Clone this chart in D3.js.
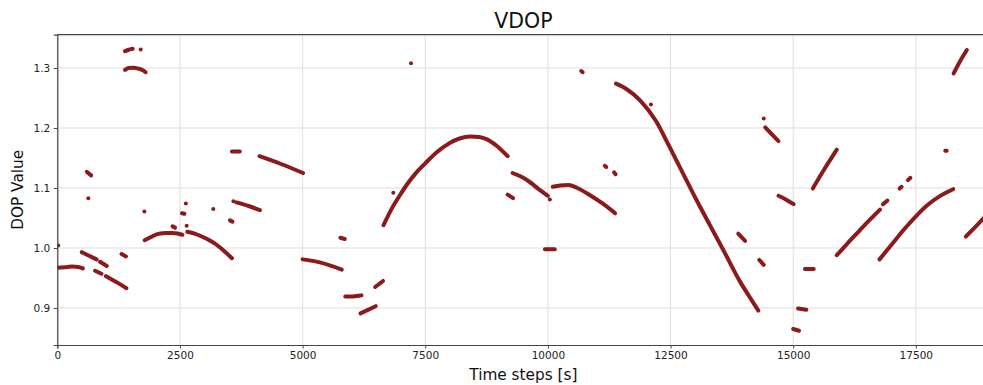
<!DOCTYPE html>
<html>
<head>
<meta charset="utf-8">
<script src="https://cdn.jsdelivr.net/npm/d3@7"></script>
<style>
  html, body { margin: 0; padding: 0; background: #fff; overflow: hidden; }
  text { font-family: "DejaVu Sans", sans-serif; }
</style>
</head>
<body>
<div id="chart"></div>
<script>
'use strict'

// tick labels
const xTicks = [0, 2500, 5000, 7500, 10000, 12500, 15000, 17500],
    yTicks = [0.9, 1.0, 1.1, 1.2, 1.3]

// continuous runs of VDOP samples, [time step, value]
const segments = [
    [[0, 0.967], [150, 0.968], [300, 0.969], [450, 0.968], [520, 0.966]],
    [[500, 0.993], [650, 0.987], [800, 0.981]],
    [[870, 0.977], [1010, 0.970]],
    [[770, 0.962], [900, 0.957]],
    [[990, 0.953], [1100, 0.948], [1250, 0.941], [1410, 0.933]],
    [[1310, 0.990], [1400, 0.986]],
    [[600, 1.127], [690, 1.121]],
    [[1380, 1.328], [1440, 1.330], [1537, 1.332]],
    [[1380, 1.297], [1450, 1.300], [1550, 1.3005], [1650, 1.299], [1750, 1.296], [1800, 1.293]],
    [[1780, 1.013], [1900, 1.018], [2000, 1.022], [2100, 1.024], [2200, 1.025], [2350, 1.025], [2450, 1.024], [2550, 1.022]],
    [[2350, 1.036], [2400, 1.034]],
    [[2540, 1.058], [2590, 1.057]],
    [[2650, 1.027], [2800, 1.024], [3000, 1.017], [3200, 1.008], [3400, 0.995], [3560, 0.983]],
    [[3520, 1.046], [3570, 1.044]],
    [[3560, 1.161], [3720, 1.161]],
    [[3650, 1.076], [3900, 1.070], [4130, 1.063]],
    [[4120, 1.153], [4560, 1.140], [5010, 1.125]],
    [[5000, 0.981], [5350, 0.976], [5800, 0.964]],
    [[5770, 1.017], [5860, 1.015]],
    [[5870, 0.919], [6000, 0.919], [6100, 0.920], [6200, 0.921]],
    [[6180, 0.891], [6490, 0.903]],
    [[6480, 0.935], [6640, 0.945]],
    [[6650, 1.038], [6820, 1.066], [7000, 1.090], [7120, 1.105], [7300, 1.124], [7500, 1.141], [7700, 1.157],
        [7870, 1.168], [8000, 1.175], [8200, 1.1825], [8420, 1.186], [8600, 1.185], [8760, 1.181], [8960, 1.170], [9180, 1.153]],
    [[9280, 1.125], [9450, 1.119], [9630, 1.110], [9800, 1.099], [10000, 1.087]],
    [[9180, 1.089], [9290, 1.083]],
    [[9940, 0.998], [10140, 0.998]],
    [[10100, 1.102], [10250, 1.104], [10420, 1.105], [10600, 1.100], [10860, 1.088], [11100, 1.075], [11370, 1.058]],
    [[11160, 1.137], [11190, 1.135]],
    [[11350, 1.126], [11380, 1.123]],
    [[10680, 1.295], [10710, 1.293]],
    [[11390, 1.274], [11600, 1.265], [11880, 1.246], [12200, 1.212], [12490, 1.167], [12800, 1.117], [13030, 1.080],
        [13300, 1.0386], [13580, 0.996], [13920, 0.9435], [14100, 0.920], [14290, 0.8955]],
    [[13880, 1.024], [14020, 1.012]],
    [[14310, 0.980], [14400, 0.972]],
    [[14430, 1.201], [14700, 1.178]],
    [[14700, 1.087], [14850, 1.081], [15010, 1.073]],
    [[15000, 0.865], [15120, 0.862]],
    [[15100, 0.899], [15270, 0.897]],
    [[15240, 0.965], [15420, 0.965]],
    [[15400, 1.099], [15640, 1.132], [15890, 1.164]],
    [[15890, 0.988], [16100, 1.007], [16330, 1.027], [16550, 1.046], [16770, 1.064]],
    [[16830, 1.073], [16920, 1.079]],
    [[17170, 1.099], [17210, 1.102]],
    [[17340, 1.113], [17390, 1.117]],
    [[18100, 1.162], [18130, 1.162]],
    [[16760, 0.981], [17000, 1.005], [17250, 1.030], [17520, 1.0545], [17720, 1.0705], [17990, 1.0865], [18260, 1.098]],
    [[18270, 1.291], [18400, 1.311], [18540, 1.330]],
    [[18520, 1.019], [18700, 1.034], [18900, 1.051]]
]

// isolated samples
const dots = [
    [20, 1.004], [632, 1.083], [1700, 1.331], [1775, 1.061], [2620, 1.074], [2637, 1.037],
    [3180, 1.065], [3590, 1.078], [6849, 1.092], [7210, 1.308], [10040, 1.081], [12100, 1.239], [14400, 1.216]
]

const W = 983, H = 385,
    margin = {top: 34.7, left: 57.3, bottom: 40, right: -6.4},
    width = W - margin.left - margin.right,
    height = H - margin.top - margin.bottom,
    color = '#8b1a1a'

const svg = d3.select('#chart')
    .append('svg')
    .attr('width', W)
    .attr('height', H)
    .style('display', 'block')

const x = d3.scaleLinear().domain([0, 19000]).range([0, width]),
    y = d3.scaleLinear().domain([0.8383, 1.3555]).range([height, 0])

const g = svg.append('g')
    .attr('transform', `translate(${margin.left},${margin.top})`)

g.append('clipPath').attr('id', 'clip')
    .append('rect').attr('width', width).attr('height', height)

// grid
g.append('g')
    .selectAll('line')
    .data(xTicks)
    .join('line')
    .attr('x1', d => x(d)).attr('x2', d => x(d))
    .attr('y1', 0).attr('y2', height)
    .attr('stroke', '#dedede').attr('stroke-width', 1)

g.append('g')
    .selectAll('line')
    .data(yTicks)
    .join('line')
    .attr('x1', 0).attr('x2', width)
    .attr('y1', d => y(d)).attr('y2', d => y(d))
    .attr('stroke', '#dedede').attr('stroke-width', 1)

// data
const line = d3.line()
    .x(d => x(d[0]))
    .y(d => y(d[1]))
    .curve(d3.curveMonotoneX)

const plot = g.append('g').attr('clip-path', 'url(#clip)')

plot.selectAll('path.seg')
    .data(segments)
    .join('path')
    .attr('class', 'seg')
    .attr('d', line)
    .attr('fill', 'none')
    .attr('stroke', color)
    .attr('stroke-width', 4)
    .attr('stroke-linecap', 'round')
    .attr('stroke-linejoin', 'round')

plot.selectAll('circle.dot')
    .data(dots)
    .join('circle')
    .attr('class', 'dot')
    .attr('cx', d => x(d[0]))
    .attr('cy', d => y(d[1]))
    .attr('r', 2)
    .attr('fill', color)

// axes
const xAxis = g.append('g')
    .attr('transform', `translate(0,${height})`)
    .call(d3.axisBottom(x).tickValues(xTicks).tickSize(3.5).tickPadding(3.5).tickFormat(d3.format('d')))

const yAxis = g.append('g')
    .call(d3.axisLeft(y).tickValues(yTicks).tickSize(3.5).tickPadding(3.5).tickFormat(d3.format('.1f')))

for (const ax of [xAxis, yAxis]) {
    ax.select('.domain').attr('stroke', '#444').attr('stroke-width', 1.2)
    ax.selectAll('.tick line').attr('stroke', '#444')
    ax.selectAll('.tick text')
        .attr('fill', '#222')
        .style('font-family', '"DejaVu Sans", sans-serif')
        .style('font-size', '10.5px')
}

// top spine
g.append('line')
    .attr('x1', 0).attr('x2', width)
    .attr('y1', 0).attr('y2', 0)
    .attr('stroke', '#444').attr('stroke-width', 1.2)

// labels
svg.append('text')
    .attr('x', margin.left + width / 2)
    .attr('y', 28)
    .attr('text-anchor', 'middle')
    .style('font-size', '20.5px')
    .attr('fill', '#111')
    .text('VDOP')

svg.append('text')
    .attr('x', margin.left + width / 2)
    .attr('y', 380)
    .attr('text-anchor', 'middle')
    .style('font-size', '15.3px')
    .attr('fill', '#111')
    .text('Time steps [s]')

svg.append('text')
    .attr('transform', `translate(23,${margin.top + height / 2}) rotate(-90)`)
    .attr('text-anchor', 'middle')
    .style('font-size', '15.3px')
    .attr('fill', '#111')
    .text('DOP Value')
</script>
</body>
</html>
